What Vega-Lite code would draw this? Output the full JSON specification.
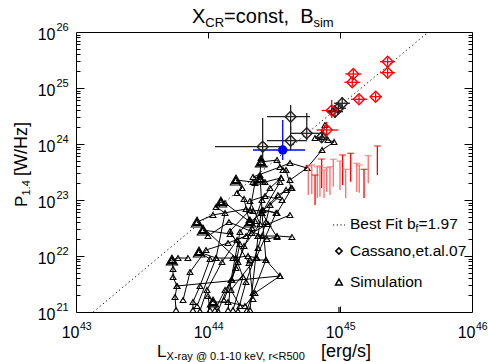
{
  "$schema": "https://vega.github.io/schema/vega-lite/v6.json",
  "width": 396,
  "height": 280,
  "autosize": {"type": "none"},
  "padding": {"left": 76, "top": 32, "right": 16, "bottom": 50},
  "background": "white",
  "config": {
    "view": {"stroke": "black", "strokeWidth": 1},
    "font": "Liberation Sans",
    "axis": {"grid": false, "domain": false, "labelColor": "black", "tickColor": "black", "labelFont": "Liberation Sans", "tickWidth": 1},
    "text": {"font": "Liberation Sans", "color": "black"}
  },
  "resolve": {"axis": {"x": "independent", "y": "independent"}, "scale": {"color": "independent"}},
  "datasets": {
    "fit": [{"L": 43.131, "P": 21}, {"L": 45.669, "P": 26}],
    "sim": [
      {"t": "T1", "i": 0, "L": 43.758, "P": 21.036, "peak": 0},
      {"t": "T1", "i": 1, "L": 43.75, "P": 21.268, "peak": 0},
      {"t": "T1", "i": 2, "L": 43.765, "P": 21.464, "peak": 0},
      {"t": "T1", "i": 3, "L": 43.735, "P": 21.625, "peak": 0},
      {"t": "T1", "i": 4, "L": 43.735, "P": 21.768, "peak": 0},
      {"t": "T1", "i": 5, "L": 43.727, "P": 21.929, "peak": 1},
      {"t": "T1", "i": 6, "L": 43.773, "P": 21.964, "peak": 0},
      {"t": "T1", "i": 7, "L": 43.848, "P": 21.964, "peak": 0},
      {"t": "T2", "i": 0, "L": 43.886, "P": 21.036, "peak": 0},
      {"t": "T2", "i": 1, "L": 43.886, "P": 21.179, "peak": 0},
      {"t": "T2", "i": 2, "L": 43.939, "P": 21.464, "peak": 0},
      {"t": "T2", "i": 3, "L": 44.015, "P": 21.946, "peak": 0},
      {"t": "T2", "i": 4, "L": 43.932, "P": 22.071, "peak": 1},
      {"t": "T2", "i": 5, "L": 44.061, "P": 21.964, "peak": 0},
      {"t": "T2", "i": 6, "L": 44.189, "P": 21.964, "peak": 0},
      {"t": "T2", "i": 7, "L": 44.303, "P": 22.0, "peak": 0},
      {"t": "T2", "i": 8, "L": 44.371, "P": 21.964, "peak": 0},
      {"t": "T3", "i": 0, "L": 44.015, "P": 21.036, "peak": 0},
      {"t": "T3", "i": 1, "L": 44.0, "P": 21.286, "peak": 0},
      {"t": "T3", "i": 2, "L": 44.038, "P": 21.179, "peak": 1},
      {"t": "T3", "i": 3, "L": 44.152, "P": 21.179, "peak": 0},
      {"t": "T3", "i": 4, "L": 44.28, "P": 21.107, "peak": 0},
      {"t": "T3", "i": 5, "L": 44.356, "P": 21.339, "peak": 0},
      {"t": "T3", "i": 6, "L": 44.545, "P": 21.643, "peak": 0},
      {"t": "T3", "i": 7, "L": 44.439, "P": 21.929, "peak": 0},
      {"t": "T3", "i": 8, "L": 44.318, "P": 21.929, "peak": 0},
      {"t": "T4", "i": 0, "L": 44.053, "P": 21.036, "peak": 0},
      {"t": "T4", "i": 1, "L": 44.129, "P": 21.393, "peak": 0},
      {"t": "T4", "i": 2, "L": 44.182, "P": 21.571, "peak": 0},
      {"t": "T4", "i": 3, "L": 44.242, "P": 22.214, "peak": 0},
      {"t": "T4", "i": 4, "L": 44.167, "P": 22.393, "peak": 0},
      {"t": "T4", "i": 5, "L": 43.962, "P": 22.464, "peak": 1},
      {"t": "T4", "i": 6, "L": 44.0, "P": 22.357, "peak": 0},
      {"t": "T4", "i": 7, "L": 44.159, "P": 22.607, "peak": 0},
      {"t": "T4", "i": 8, "L": 44.409, "P": 22.357, "peak": 0},
      {"t": "T4", "i": 9, "L": 44.523, "P": 22.357, "peak": 0},
      {"t": "T4", "i": 10, "L": 44.636, "P": 22.339, "peak": 0},
      {"t": "T5", "i": 0, "L": 44.189, "P": 21.036, "peak": 0},
      {"t": "T5", "i": 1, "L": 44.265, "P": 21.625, "peak": 0},
      {"t": "T5", "i": 2, "L": 44.212, "P": 21.964, "peak": 0},
      {"t": "T5", "i": 3, "L": 43.917, "P": 22.607, "peak": 1},
      {"t": "T5", "i": 4, "L": 44.038, "P": 22.732, "peak": 0},
      {"t": "T5", "i": 5, "L": 44.288, "P": 22.839, "peak": 0},
      {"t": "T5", "i": 6, "L": 44.341, "P": 22.804, "peak": 0},
      {"t": "T5", "i": 7, "L": 44.417, "P": 22.821, "peak": 0},
      {"t": "T5", "i": 8, "L": 44.523, "P": 22.768, "peak": 0},
      {"t": "T5", "i": 9, "L": 44.636, "P": 23.214, "peak": 0},
      {"t": "T6", "i": 0, "L": 44.295, "P": 21.036, "peak": 0},
      {"t": "T6", "i": 1, "L": 44.341, "P": 21.339, "peak": 0},
      {"t": "T6", "i": 2, "L": 44.439, "P": 21.929, "peak": 0},
      {"t": "T6", "i": 3, "L": 44.409, "P": 22.768, "peak": 0},
      {"t": "T6", "i": 4, "L": 44.523, "P": 22.339, "peak": 0},
      {"t": "T6", "i": 5, "L": 44.447, "P": 22.304, "peak": 0},
      {"t": "T6", "i": 6, "L": 44.379, "P": 22.357, "peak": 0},
      {"t": "T7", "i": 0, "L": 43.917, "P": 21.107, "peak": 0},
      {"t": "T7", "i": 1, "L": 44.061, "P": 21.964, "peak": 0},
      {"t": "T7", "i": 2, "L": 44.129, "P": 22.768, "peak": 0},
      {"t": "T7", "i": 3, "L": 44.061, "P": 22.875, "peak": 0},
      {"t": "T7", "i": 4, "L": 44.098, "P": 22.964, "peak": 1},
      {"t": "T7", "i": 5, "L": 44.129, "P": 22.946, "peak": 0},
      {"t": "T7", "i": 6, "L": 44.318, "P": 22.607, "peak": 1},
      {"t": "T7", "i": 7, "L": 44.409, "P": 22.768, "peak": 0},
      {"t": "T7", "i": 8, "L": 44.545, "P": 23.321, "peak": 0},
      {"t": "T8", "i": 0, "L": 44.152, "P": 21.036, "peak": 0},
      {"t": "T8", "i": 1, "L": 44.174, "P": 21.571, "peak": 0},
      {"t": "T8", "i": 2, "L": 44.242, "P": 22.429, "peak": 0},
      {"t": "T8", "i": 3, "L": 44.311, "P": 22.643, "peak": 0},
      {"t": "T8", "i": 4, "L": 44.273, "P": 23.018, "peak": 0},
      {"t": "T8", "i": 5, "L": 44.22, "P": 23.125, "peak": 0},
      {"t": "T8", "i": 6, "L": 44.258, "P": 23.214, "peak": 0},
      {"t": "T8", "i": 7, "L": 44.212, "P": 23.357, "peak": 1},
      {"t": "T8", "i": 8, "L": 44.341, "P": 23.321, "peak": 0},
      {"t": "T8", "i": 9, "L": 44.432, "P": 23.321, "peak": 0},
      {"t": "T8", "i": 10, "L": 44.553, "P": 23.393, "peak": 0},
      {"t": "T9", "i": 0, "L": 44.318, "P": 21.036, "peak": 0},
      {"t": "T9", "i": 1, "L": 44.379, "P": 22.357, "peak": 0},
      {"t": "T9", "i": 2, "L": 44.402, "P": 22.768, "peak": 0},
      {"t": "T9", "i": 3, "L": 44.53, "P": 23.089, "peak": 0},
      {"t": "T9", "i": 4, "L": 44.629, "P": 23.214, "peak": 0},
      {"t": "T9", "i": 5, "L": 44.591, "P": 23.536, "peak": 0},
      {"t": "T9", "i": 6, "L": 44.568, "P": 23.536, "peak": 0},
      {"t": "T9", "i": 7, "L": 44.523, "P": 23.714, "peak": 0},
      {"t": "T9", "i": 8, "L": 44.402, "P": 23.679, "peak": 1},
      {"t": "T10", "i": 0, "L": 44.341, "P": 21.232, "peak": 0},
      {"t": "T10", "i": 1, "L": 44.311, "P": 21.875, "peak": 0},
      {"t": "T10", "i": 2, "L": 44.167, "P": 22.446, "peak": 0},
      {"t": "T10", "i": 3, "L": 44.318, "P": 22.821, "peak": 0},
      {"t": "T10", "i": 4, "L": 44.356, "P": 23.304, "peak": 0},
      {"t": "T10", "i": 5, "L": 44.394, "P": 23.375, "peak": 1},
      {"t": "T10", "i": 6, "L": 44.341, "P": 23.411, "peak": 0},
      {"t": "T10", "i": 7, "L": 44.545, "P": 23.589, "peak": 0},
      {"t": "T10", "i": 8, "L": 44.621, "P": 23.661, "peak": 0},
      {"t": "T10", "i": 9, "L": 44.75, "P": 23.571, "peak": 0},
      {"t": "T11", "i": 0, "L": 44.242, "P": 21.107, "peak": 0},
      {"t": "T11", "i": 1, "L": 44.174, "P": 21.393, "peak": 0},
      {"t": "T11", "i": 2, "L": 44.364, "P": 21.964, "peak": 0},
      {"t": "T11", "i": 3, "L": 44.515, "P": 22.768, "peak": 0},
      {"t": "T11", "i": 4, "L": 44.409, "P": 22.821, "peak": 0},
      {"t": "T11", "i": 5, "L": 44.394, "P": 23.446, "peak": 0},
      {"t": "T11", "i": 6, "L": 44.402, "P": 23.75, "peak": 0},
      {"t": "T12", "i": 0, "L": 44.621, "P": 23.357, "peak": 0},
      {"t": "T12", "i": 1, "L": 44.75, "P": 23.571, "peak": 0},
      {"t": "T12", "i": 2, "L": 44.864, "P": 23.893, "peak": 0},
      {"t": "T12", "i": 3, "L": 44.955, "P": 24.036, "peak": 0},
      {"t": "T12", "i": 4, "L": 44.909, "P": 24.071, "peak": 0},
      {"t": "T12", "i": 5, "L": 44.811, "P": 24.107, "peak": 0},
      {"t": "T12", "i": 6, "L": 44.864, "P": 24.125, "peak": 0},
      {"t": "T12", "i": 7, "L": 44.886, "P": 24.339, "peak": 0},
      {"t": "T13", "i": 0, "L": 43.765, "P": 21.464, "peak": 0},
      {"t": "T13", "i": 1, "L": 44.545, "P": 21.643, "peak": 0},
      {"t": "T14", "i": 0, "L": 44.076, "P": 21.018, "peak": 0},
      {"t": "T14", "i": 1, "L": 44.227, "P": 21.893, "peak": 0},
      {"t": "T14", "i": 2, "L": 44.333, "P": 22.5, "peak": 0},
      {"t": "T14", "i": 3, "L": 44.409, "P": 23.0, "peak": 0},
      {"t": "T14", "i": 4, "L": 44.47, "P": 23.214, "peak": 0},
      {"t": "T14", "i": 5, "L": 44.553, "P": 23.393, "peak": 0},
      {"t": "T15", "i": 0, "L": 44.227, "P": 21.018, "peak": 0},
      {"t": "T15", "i": 1, "L": 44.288, "P": 21.536, "peak": 0},
      {"t": "T15", "i": 2, "L": 44.379, "P": 22.143, "peak": 0},
      {"t": "T15", "i": 3, "L": 44.439, "P": 22.607, "peak": 0},
      {"t": "T15", "i": 4, "L": 44.47, "P": 22.911, "peak": 0},
      {"t": "T15", "i": 5, "L": 44.591, "P": 23.179, "peak": 0},
      {"t": "T16", "i": 0, "L": 43.939, "P": 21.018, "peak": 0},
      {"t": "T16", "i": 1, "L": 43.992, "P": 21.393, "peak": 0},
      {"t": "T16", "i": 2, "L": 44.106, "P": 21.893, "peak": 0},
      {"t": "T16", "i": 3, "L": 44.22, "P": 22.286, "peak": 0},
      {"t": "T16", "i": 4, "L": 44.333, "P": 22.411, "peak": 0},
      {"t": "T16", "i": 5, "L": 44.455, "P": 22.571, "peak": 0},
      {"t": "T16", "i": 6, "L": 44.621, "P": 22.732, "peak": 0},
      {"t": "T17", "i": 0, "L": 43.811, "P": 21.214, "peak": 0},
      {"t": "T17", "i": 1, "L": 43.864, "P": 21.714, "peak": 0},
      {"t": "T17", "i": 2, "L": 43.985, "P": 22.107, "peak": 0},
      {"t": "T17", "i": 3, "L": 44.152, "P": 22.232, "peak": 0},
      {"t": "T17", "i": 4, "L": 44.288, "P": 22.357, "peak": 0},
      {"t": "T17", "i": 5, "L": 44.356, "P": 22.625, "peak": 0},
      {"t": "T18", "i": 0, "L": 44.121, "P": 21.214, "peak": 0},
      {"t": "T18", "i": 1, "L": 44.212, "P": 21.786, "peak": 0},
      {"t": "T18", "i": 2, "L": 44.273, "P": 22.179, "peak": 0},
      {"t": "T18", "i": 3, "L": 44.394, "P": 22.571, "peak": 0},
      {"t": "T18", "i": 4, "L": 44.318, "P": 22.982, "peak": 0},
      {"t": "T18", "i": 5, "L": 44.432, "P": 23.071, "peak": 0},
      {"t": "T18", "i": 6, "L": 44.561, "P": 23.0, "peak": 0}
    ],
    "cas": [
      {"sample": "C07", "L": 44.626, "P": 24.488, "L_lo": 44.447, "L_hi": 44.773, "P_lo": 24.25, "P_hi": 24.696},
      {"sample": "C07", "L": 44.414, "P": 23.952, "L_lo": 44.053, "L_hi": 44.568, "P_lo": 23.75, "P_hi": 24.464},
      {"sample": "C07", "L": 44.626, "P": 24.059, "L_lo": 44.447, "L_hi": 44.75, "P_lo": 23.893, "P_hi": 24.304},
      {"sample": "C07", "L": 44.748, "P": 24.191, "L_lo": 44.621, "L_hi": 44.848, "P_lo": 24.071, "P_hi": 24.554},
      {"sample": "C07", "L": 44.962, "P": 24.577, "L_lo": 44.9, "L_hi": 45.023, "P_lo": 24.464, "P_hi": 24.696},
      {"sample": "C07", "L": 44.987, "P": 24.638, "L_lo": 44.932, "L_hi": 45.045, "P_lo": 24.518, "P_hi": 24.75},
      {"sample": "C07", "L": 45.017, "P": 24.727, "L_lo": 44.955, "L_hi": 45.076, "P_lo": 24.607, "P_hi": 24.839},
      {"sample": "C07", "L": 44.861, "P": 24.12, "L_lo": 44.818, "L_hi": 44.909, "P_lo": 24.018, "P_hi": 24.232},
      {"sample": "sel", "L": 44.566, "P": 23.893, "L_lo": 44.341, "L_hi": 44.735, "P_lo": 23.714, "P_hi": 24.429},
      {"sample": "RH", "L": 44.937, "P": 24.598, "L_lo": 44.861, "L_hi": 45.013, "P_lo": 24.464, "P_hi": 24.786},
      {"sample": "RH", "L": 44.899, "P": 24.25, "L_lo": 44.823, "L_hi": 44.987, "P_lo": 24.102, "P_hi": 24.398},
      {"sample": "RH", "L": 45.101, "P": 25.25, "L_lo": 45.04, "L_hi": 45.161, "P_lo": 25.179, "P_hi": 25.321},
      {"sample": "RH", "L": 45.093, "P": 25.102, "L_lo": 45.033, "L_hi": 45.154, "P_lo": 25.03, "P_hi": 25.173},
      {"sample": "RH", "L": 45.144, "P": 24.798, "L_lo": 45.083, "L_hi": 45.205, "P_lo": 24.727, "P_hi": 24.87},
      {"sample": "RH", "L": 45.27, "P": 24.845, "L_lo": 45.227, "L_hi": 45.316, "P_lo": 24.773, "P_hi": 24.916},
      {"sample": "RH", "L": 45.361, "P": 25.47, "L_lo": 45.303, "L_hi": 45.417, "P_lo": 25.398, "P_hi": 25.541},
      {"sample": "RH", "L": 45.361, "P": 25.273, "L_lo": 45.303, "L_hi": 45.417, "P_lo": 25.202, "P_hi": 25.345}
    ],
    "ul": [
      {"survey": "B", "L": 44.76, "P": 23.607, "P_end": 23.089},
      {"survey": "B", "L": 44.786, "P": 23.625, "P_end": 23.107},
      {"survey": "A", "L": 44.811, "P": 23.446, "P_end": 22.911},
      {"survey": "B", "L": 44.828, "P": 23.595, "P_end": 23.036},
      {"survey": "B", "L": 44.848, "P": 23.607, "P_end": 23.059},
      {"survey": "A", "L": 44.861, "P": 23.732, "P_end": 23.214},
      {"survey": "B", "L": 44.879, "P": 23.536, "P_end": 23.036},
      {"survey": "B", "L": 44.899, "P": 23.577, "P_end": 23.148},
      {"survey": "B", "L": 44.924, "P": 23.595, "P_end": 23.089},
      {"survey": "B", "L": 44.949, "P": 23.727, "P_end": 23.238},
      {"survey": "B", "L": 45.0, "P": 23.696, "P_end": 23.179},
      {"survey": "A", "L": 45.02, "P": 23.804, "P_end": 23.268},
      {"survey": "B", "L": 45.043, "P": 23.548, "P_end": 23.036},
      {"survey": "A", "L": 45.081, "P": 23.834, "P_end": 23.327},
      {"survey": "B", "L": 45.127, "P": 23.655, "P_end": 23.148},
      {"survey": "B", "L": 45.146, "P": 23.625, "P_end": 23.13},
      {"survey": "A", "L": 45.182, "P": 23.548, "P_end": 23.036},
      {"survey": "B", "L": 45.214, "P": 23.791, "P_end": 23.298},
      {"survey": "A", "L": 45.283, "P": 23.964, "P_end": 23.446}
    ]
  },
  "layer": [
    {
      "data": {"name": "fit"},
      "mark": {"type": "line", "color": "black", "strokeWidth": 1, "strokeDash": [1.2, 3], "clip": true},
      "encoding": {
        "x": {"field": "L", "type": "quantitative", "scale": {"domain": [43, 46], "nice": false, "zero": false},
          "axis": {"orient": "bottom", "values": [43, 44, 45, 46], "labelExpr": "'10'", "ticks": false, "labelFontSize": 16, "labelAlign": "right", "labelBaseline": "top", "labelOffset": 3, "labelPadding": 12, "labelFlush": false, "labelOverlap": false, "labelBound": false, "title": null}},
        "y": {"field": "P", "type": "quantitative", "scale": {"domain": [21, 26], "nice": false, "zero": false},
          "axis": {"orient": "left", "values": [21, 22, 23, 24, 25, 26], "labelExpr": "'10'", "ticks": false, "labelFontSize": 16, "labelAlign": "right", "labelBaseline": "middle", "labelOffset": 2, "labelPadding": 21, "labelFlush": false, "labelOverlap": false, "labelBound": false, "title": null}}
      }
    },
    {
      "data": {"name": "sim"},
      "mark": {"type": "line", "color": "black", "strokeWidth": 1, "clip": true},
      "encoding": {
        "x": {"field": "L", "type": "quantitative", "scale": {"domain": [43, 46], "nice": false, "zero": false},
          "axis": {"orient": "bottom", "values": [43, 44, 45, 46], "labelExpr": "format(datum.value, 'd')", "ticks": false, "labelFontSize": 10.5, "labelAlign": "left", "labelBaseline": "top", "labelOffset": 3.5, "labelPadding": 9, "labelFlush": false, "labelOverlap": false, "labelBound": false, "title": null}},
        "y": {"field": "P", "type": "quantitative", "scale": {"domain": [21, 26], "nice": false, "zero": false},
          "axis": {"orient": "left", "values": [21, 22, 23, 24, 25, 26], "labelExpr": "format(datum.value, 'd')", "ticks": false, "labelFontSize": 11, "labelAlign": "left", "labelBaseline": "middle", "labelOffset": -5, "labelPadding": 20, "labelFlush": false, "labelOverlap": false, "labelBound": false, "title": null}},
        "detail": {"field": "t"},
        "order": {"field": "i"}
      }
    },
    {
      "data": {"name": "sim"},
      "mark": {"type": "point", "shape": "triangle-up", "filled": false, "color": "black", "size": 34, "strokeWidth": 1.1, "opacity": 1, "clip": true},
      "encoding": {
        "x": {"field": "L", "type": "quantitative", "scale": {"domain": [43, 46], "nice": false, "zero": false},
          "axis": {"orient": "bottom", "values": [44, 45], "labels": false, "tickSize": -6, "title": null}},
        "y": {"field": "P", "type": "quantitative", "scale": {"domain": [21, 26], "nice": false, "zero": false},
          "axis": {"orient": "left", "values": [22, 23, 24, 25], "labels": false, "tickSize": -8, "title": null}}
      }
    },
    {
      "data": {"name": "sim"},
      "transform": [{"filter": "datum.peak == 1"}],
      "mark": {"type": "point", "shape": "triangle-up", "filled": false, "color": "black", "size": 130, "strokeWidth": 1.1, "opacity": 1, "clip": true},
      "encoding": {
        "x": {"field": "L", "type": "quantitative", "scale": {"domain": [43, 46], "nice": false, "zero": false},
          "axis": {"orient": "top", "values": [44, 45], "labels": false, "tickSize": -6, "title": null}},
        "y": {"field": "P", "type": "quantitative", "scale": {"domain": [21, 26], "nice": false, "zero": false},
          "axis": {"orient": "left", "values": [21.30103, 21.47712, 21.60206, 21.69897, 21.77815, 21.8451, 21.90309, 21.95424, 22.30103, 22.47712, 22.60206, 22.69897, 22.77815, 22.8451, 22.90309, 22.95424, 23.30103, 23.47712, 23.60206, 23.69897, 23.77815, 23.8451, 23.90309, 23.95424, 24.30103, 24.47712, 24.60206, 24.69897, 24.77815, 24.8451, 24.90309, 24.95424, 25.30103, 25.47712, 25.60206, 25.69897, 25.77815, 25.8451, 25.90309, 25.95424], "labels": false, "tickSize": -4, "title": null}}
      }
    },
    {
      "data": {"name": "sim"},
      "transform": [{"filter": "datum.peak == 1"}],
      "mark": {"type": "point", "shape": "triangle-up", "filled": false, "color": "black", "size": 65, "strokeWidth": 1.1, "opacity": 1, "clip": true},
      "encoding": {
        "x": {"field": "L", "type": "quantitative", "scale": {"domain": [43, 46], "nice": false, "zero": false}, "axis": null},
        "y": {"field": "P", "type": "quantitative", "scale": {"domain": [21, 26], "nice": false, "zero": false}, "axis": null}
      }
    },
    {
      "data": {"name": "ul"},
      "mark": {"type": "rule", "strokeWidth": 1.3},
      "encoding": {
        "x": {"field": "L", "type": "quantitative", "scale": {"domain": [43, 46], "nice": false, "zero": false}, "axis": null},
        "y": {"field": "P", "type": "quantitative", "scale": {"domain": [21, 26], "nice": false, "zero": false},
          "axis": {"orient": "right", "values": [22, 23, 24, 25], "labels": false, "tickSize": -8, "title": null}},
        "y2": {"field": "P_end"},
        "color": {"field": "survey", "type": "nominal", "scale": {"domain": ["A", "B"], "range": ["#ff0000", "#ff6a6a"]}, "legend": null}
      }
    },
    {
      "data": {"name": "ul"},
      "mark": {"type": "tick", "orient": "horizontal", "size": 7, "thickness": 1.3},
      "encoding": {
        "x": {"field": "L", "type": "quantitative", "scale": {"domain": [43, 46], "nice": false, "zero": false}, "axis": null},
        "y": {"field": "P", "type": "quantitative", "scale": {"domain": [21, 26], "nice": false, "zero": false},
          "axis": {"orient": "right", "values": [21.30103, 21.47712, 21.60206, 21.69897, 21.77815, 21.8451, 21.90309, 21.95424, 22.30103, 22.47712, 22.60206, 22.69897, 22.77815, 22.8451, 22.90309, 22.95424, 23.30103, 23.47712, 23.60206, 23.69897, 23.77815, 23.8451, 23.90309, 23.95424, 24.30103, 24.47712, 24.60206, 24.69897, 24.77815, 24.8451, 24.90309, 24.95424, 25.30103, 25.47712, 25.60206, 25.69897, 25.77815, 25.8451, 25.90309, 25.95424], "labels": false, "tickSize": -4, "title": null}},
        "color": {"field": "survey", "type": "nominal", "scale": {"domain": ["A", "B"], "range": ["#ff0000", "#ff6a6a"]}, "legend": null}
      }
    },
    {
      "data": {"name": "cas"},
      "mark": {"type": "rule", "strokeWidth": 1.3},
      "encoding": {
        "x": {"field": "L_lo", "type": "quantitative", "scale": {"domain": [43, 46], "nice": false, "zero": false}, "axis": null},
        "x2": {"field": "L_hi"},
        "y": {"field": "P", "type": "quantitative", "scale": {"domain": [21, 26], "nice": false, "zero": false}, "axis": null},
        "color": {"field": "sample", "type": "nominal", "scale": {"domain": ["C07", "RH", "sel"], "range": ["#222222", "#ff0000", "#0000ff"]}, "legend": null}
      }
    },
    {
      "data": {"name": "cas"},
      "mark": {"type": "rule", "strokeWidth": 1.3},
      "encoding": {
        "x": {"field": "L", "type": "quantitative", "scale": {"domain": [43, 46], "nice": false, "zero": false}, "axis": null},
        "y": {"field": "P_lo", "type": "quantitative", "scale": {"domain": [21, 26], "nice": false, "zero": false}, "axis": null},
        "y2": {"field": "P_hi"},
        "color": {"field": "sample", "type": "nominal", "scale": {"domain": ["C07", "RH", "sel"], "range": ["#222222", "#ff0000", "#0000ff"]}, "legend": null}
      }
    },
    {
      "data": {"name": "cas"},
      "transform": [{"filter": "datum.sample != 'sel'"}],
      "mark": {"type": "point", "shape": "diamond", "filled": false, "size": 120, "strokeWidth": 1.4, "opacity": 1},
      "encoding": {
        "x": {"field": "L", "type": "quantitative", "scale": {"domain": [43, 46], "nice": false, "zero": false}, "axis": null},
        "y": {"field": "P", "type": "quantitative", "scale": {"domain": [21, 26], "nice": false, "zero": false}, "axis": null},
        "color": {"field": "sample", "type": "nominal", "scale": {"domain": ["C07", "RH", "sel"], "range": ["#222222", "#ff0000", "#0000ff"]}, "legend": null}
      }
    },
    {
      "data": {"name": "cas"},
      "transform": [{"filter": "datum.sample == 'sel'"}],
      "mark": {"type": "point", "shape": "circle", "filled": true, "size": 90, "opacity": 1},
      "encoding": {
        "x": {"field": "L", "type": "quantitative", "scale": {"domain": [43, 46], "nice": false, "zero": false}, "axis": null},
        "y": {"field": "P", "type": "quantitative", "scale": {"domain": [21, 26], "nice": false, "zero": false}, "axis": null},
        "color": {"field": "sample", "type": "nominal", "scale": {"domain": ["C07", "RH", "sel"], "range": ["#222222", "#ff0000", "#0000ff"]}, "legend": null}
      }
    },
    {
      "data": {"values": [{}]},
      "layer": [
        {"mark": {"type": "rule", "color": "black", "strokeWidth": 1, "strokeDash": [1.2, 2.5]},
         "encoding": {"x": {"datum": 44.947, "type": "quantitative", "scale": {"domain": [43, 46], "nice": false, "zero": false}, "axis": null}, "x2": {"datum": 45.038}, "y": {"datum": 22.554, "type": "quantitative", "scale": {"domain": [21, 26], "nice": false, "zero": false}, "axis": null}}},
        {"mark": {"type": "point", "shape": "diamond", "filled": false, "color": "black", "size": 40, "strokeWidth": 1.6, "opacity": 1},
         "encoding": {"x": {"datum": 44.992, "type": "quantitative", "scale": {"domain": [43, 46], "nice": false, "zero": false}, "axis": null}, "y": {"datum": 22.089, "type": "quantitative", "scale": {"domain": [21, 26], "nice": false, "zero": false}, "axis": null}}},
        {"mark": {"type": "point", "shape": "triangle-up", "filled": false, "color": "black", "size": 45, "strokeWidth": 1.5, "opacity": 1},
         "encoding": {"x": {"datum": 44.992, "type": "quantitative", "scale": {"domain": [43, 46], "nice": false, "zero": false}, "axis": null}, "y": {"datum": 21.536, "type": "quantitative", "scale": {"domain": [21, 26], "nice": false, "zero": false}, "axis": null}}},
        {"mark": {"type": "rule", "color": "black", "strokeWidth": 1.2},
         "encoding": {"x": {"datum": 44.992, "type": "quantitative", "scale": {"domain": [43, 46], "nice": false, "zero": false}, "axis": null}, "y": {"datum": 21.089, "type": "quantitative", "scale": {"domain": [21, 26], "nice": false, "zero": false}, "axis": null}, "y2": {"datum": 21.0}}},
        {"mark": {"type": "text", "align": "left", "baseline": "alphabetic", "fontSize": 15.5},
         "encoding": {"x": {"datum": 45.076, "type": "quantitative", "scale": {"domain": [43, 46], "nice": false, "zero": false}, "axis": null}, "y": {"datum": 22.482, "type": "quantitative", "scale": {"domain": [21, 26], "nice": false, "zero": false}, "axis": null}, "text": {"value": "Best Fit b"}}},
        {"mark": {"type": "text", "align": "left", "baseline": "alphabetic", "fontSize": 10},
         "encoding": {"x": {"datum": 45.572, "type": "quantitative", "scale": {"domain": [43, 46], "nice": false, "zero": false}, "axis": null}, "y": {"datum": 22.429, "type": "quantitative", "scale": {"domain": [21, 26], "nice": false, "zero": false}, "axis": null}, "text": {"value": "f"}}},
        {"mark": {"type": "text", "align": "left", "baseline": "alphabetic", "fontSize": 15.5},
         "encoding": {"x": {"datum": 45.595, "type": "quantitative", "scale": {"domain": [43, 46], "nice": false, "zero": false}, "axis": null}, "y": {"datum": 22.482, "type": "quantitative", "scale": {"domain": [21, 26], "nice": false, "zero": false}, "axis": null}, "text": {"value": "=1.97"}}},
        {"mark": {"type": "text", "align": "left", "baseline": "alphabetic", "fontSize": 15.5},
         "encoding": {"x": {"datum": 45.076, "type": "quantitative", "scale": {"domain": [43, 46], "nice": false, "zero": false}, "axis": null}, "y": {"datum": 22.0, "type": "quantitative", "scale": {"domain": [21, 26], "nice": false, "zero": false}, "axis": null}, "text": {"value": "Cassano,et.al.07"}}},
        {"mark": {"type": "text", "align": "left", "baseline": "alphabetic", "fontSize": 15.5},
         "encoding": {"x": {"datum": 45.076, "type": "quantitative", "scale": {"domain": [43, 46], "nice": false, "zero": false}, "axis": null}, "y": {"datum": 21.446, "type": "quantitative", "scale": {"domain": [21, 26], "nice": false, "zero": false}, "axis": null}, "text": {"value": "Simulation"}}},
        {"mark": {"type": "text", "align": "left", "baseline": "alphabetic", "fontSize": 20},
         "encoding": {"x": {"datum": 43.879, "type": "quantitative", "scale": {"domain": [43, 46], "nice": false, "zero": false}, "axis": null}, "y": {"datum": 26.166, "type": "quantitative", "scale": {"domain": [21, 26], "nice": false, "zero": false}, "axis": null}, "text": {"value": "X"}}},
        {"mark": {"type": "text", "align": "left", "baseline": "alphabetic", "fontSize": 13},
         "encoding": {"x": {"datum": 43.98, "type": "quantitative", "scale": {"domain": [43, 46], "nice": false, "zero": false}, "axis": null}, "y": {"datum": 26.095, "type": "quantitative", "scale": {"domain": [21, 26], "nice": false, "zero": false}, "axis": null}, "text": {"value": "CR"}}},
        {"mark": {"type": "text", "align": "left", "baseline": "alphabetic", "fontSize": 20},
         "encoding": {"x": {"datum": 44.122, "type": "quantitative", "scale": {"domain": [43, 46], "nice": false, "zero": false}, "axis": null}, "y": {"datum": 26.166, "type": "quantitative", "scale": {"domain": [21, 26], "nice": false, "zero": false}, "axis": null}, "text": {"value": "=const,"}}},
        {"mark": {"type": "text", "align": "left", "baseline": "alphabetic", "fontSize": 20},
         "encoding": {"x": {"datum": 44.698, "type": "quantitative", "scale": {"domain": [43, 46], "nice": false, "zero": false}, "axis": null}, "y": {"datum": 26.166, "type": "quantitative", "scale": {"domain": [21, 26], "nice": false, "zero": false}, "axis": null}, "text": {"value": "B"}}},
        {"mark": {"type": "text", "align": "left", "baseline": "alphabetic", "fontSize": 13},
         "encoding": {"x": {"datum": 44.799, "type": "quantitative", "scale": {"domain": [43, 46], "nice": false, "zero": false}, "axis": null}, "y": {"datum": 26.095, "type": "quantitative", "scale": {"domain": [21, 26], "nice": false, "zero": false}, "axis": null}, "text": {"value": "sim"}}},
        {"mark": {"type": "text", "align": "left", "baseline": "alphabetic", "fontSize": 17},
         "encoding": {"x": {"datum": 43.614, "type": "quantitative", "scale": {"domain": [43, 46], "nice": false, "zero": false}, "axis": null}, "y": {"datum": 20.196, "type": "quantitative", "scale": {"domain": [21, 26], "nice": false, "zero": false}, "axis": null}, "text": {"value": "L"}}},
        {"mark": {"type": "text", "align": "left", "baseline": "alphabetic", "fontSize": 11},
         "encoding": {"x": {"datum": 43.686, "type": "quantitative", "scale": {"domain": [43, 46], "nice": false, "zero": false}, "axis": null}, "y": {"datum": 20.143, "type": "quantitative", "scale": {"domain": [21, 26], "nice": false, "zero": false}, "axis": null}, "text": {"value": "X-ray @ 0.1-10 keV, r<R500"}}},
        {"mark": {"type": "text", "align": "left", "baseline": "alphabetic", "fontSize": 18},
         "encoding": {"x": {"datum": 44.856, "type": "quantitative", "scale": {"domain": [43, 46], "nice": false, "zero": false}, "axis": null}, "y": {"datum": 20.196, "type": "quantitative", "scale": {"domain": [21, 26], "nice": false, "zero": false}, "axis": null}, "text": {"value": "[erg/s]"}}},
        {"mark": {"type": "text", "align": "left", "baseline": "alphabetic", "fontSize": 17, "angle": 270},
         "encoding": {"x": {"datum": 42.629, "type": "quantitative", "scale": {"domain": [43, 46], "nice": false, "zero": false}, "axis": null}, "y": {"datum": 22.875, "type": "quantitative", "scale": {"domain": [21, 26], "nice": false, "zero": false}, "axis": null}, "text": {"value": "P"}}},
        {"mark": {"type": "text", "align": "left", "baseline": "alphabetic", "fontSize": 11, "angle": 270},
         "encoding": {"x": {"datum": 42.652, "type": "quantitative", "scale": {"domain": [43, 46], "nice": false, "zero": false}, "axis": null}, "y": {"datum": 23.08, "type": "quantitative", "scale": {"domain": [21, 26], "nice": false, "zero": false}, "axis": null}, "text": {"value": "1.4"}}},
        {"mark": {"type": "text", "align": "left", "baseline": "alphabetic", "fontSize": 18, "angle": 270},
         "encoding": {"x": {"datum": 42.629, "type": "quantitative", "scale": {"domain": [43, 46], "nice": false, "zero": false}, "axis": null}, "y": {"datum": 23.429, "type": "quantitative", "scale": {"domain": [21, 26], "nice": false, "zero": false}, "axis": null}, "text": {"value": "[W/Hz]"}}}
      ]
    }
  ]
}
